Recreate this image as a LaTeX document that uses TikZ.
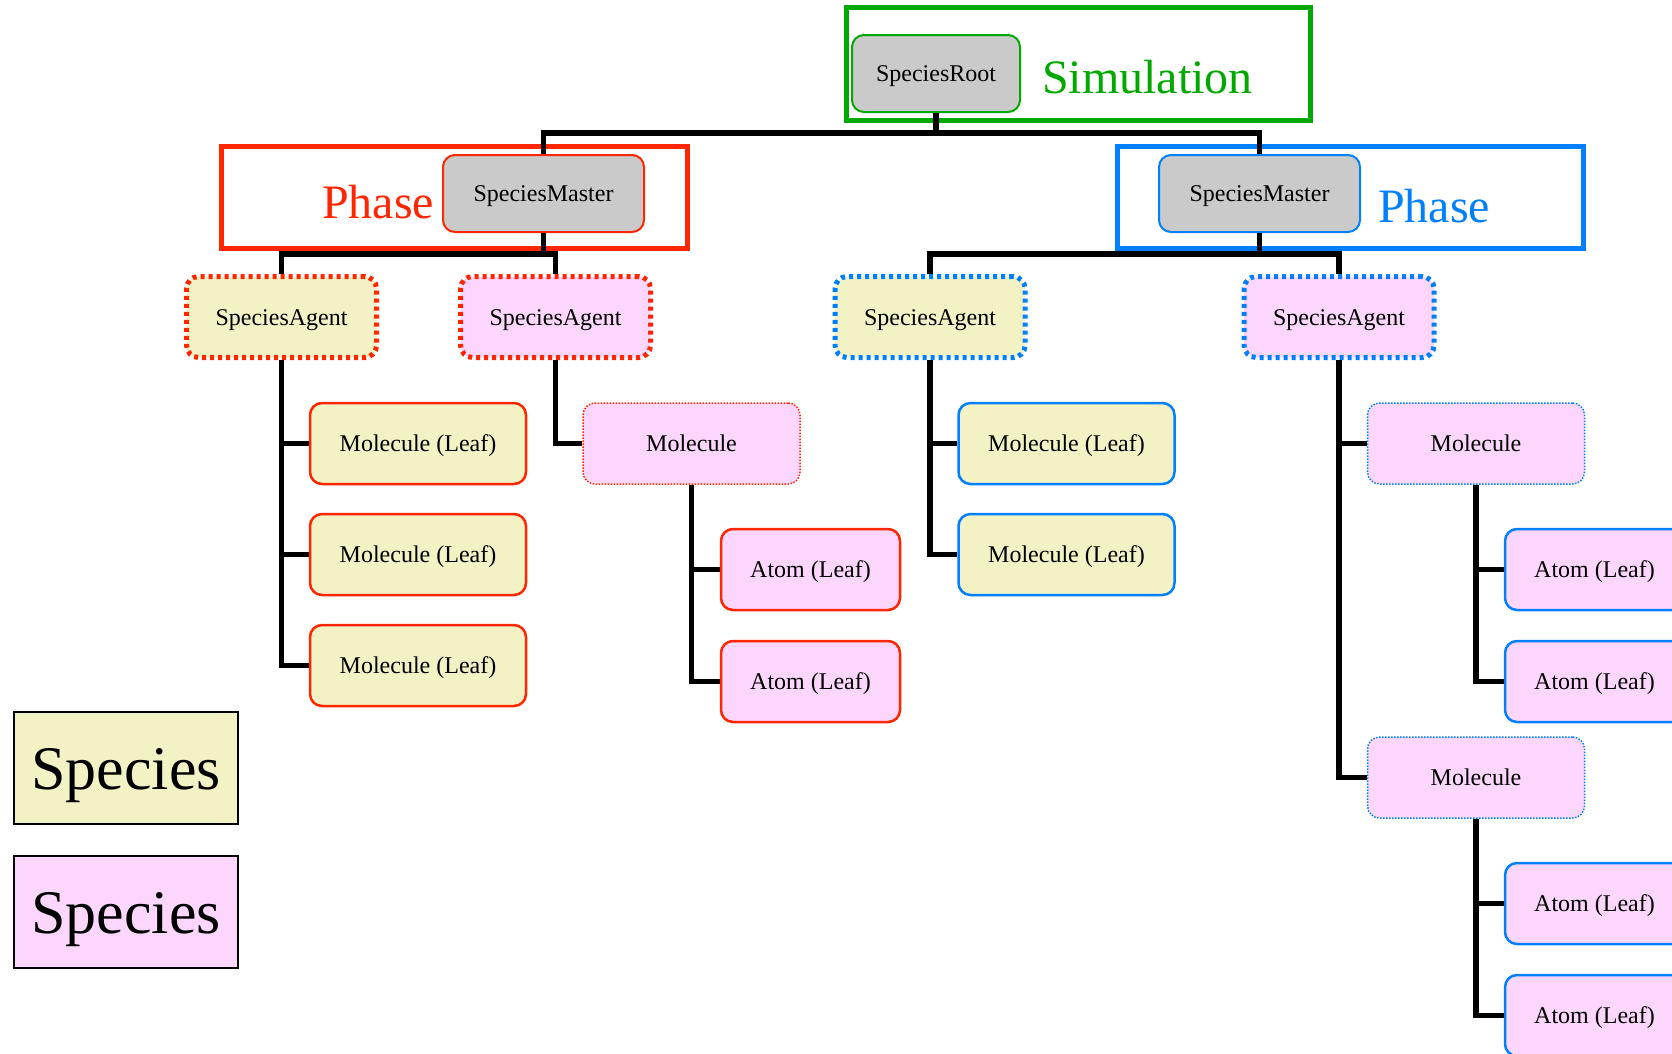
\documentclass[tikz,border=0pt]{standalone}
\usepackage{fontspec}
\setmainfont{Liberation Serif}
\definecolor{cred}{RGB}{255,38,0}
\definecolor{cblue}{RGB}{0,128,255}
\definecolor{cgreen}{RGB}{0,168,0}
\definecolor{cyel}{RGB}{243,242,196}
\definecolor{cpink}{RGB}{253,214,253}
\definecolor{cgray}{RGB}{202,202,202}
\tikzset{
  base/.style={rounded corners=12pt, inner sep=0pt, font=\fontsize{24}{28}\selectfont, text=black, text height=16.4pt, text depth=0pt},
  rootbox/.style={base, fill=cgray, draw=cgreen, line width=2pt, minimum width=168pt, minimum height=77pt},
  masterbox/.style={base, fill=cgray, line width=2pt, minimum width=201pt, minimum height=77pt},
  agentbox/.style={base, line width=5pt, dash pattern=on 4pt off 4pt, minimum width=190pt, minimum height=81pt},
  leafbox/.style={base, line width=2.5pt, minimum height=81pt},
  molbox/.style={base, fill=cpink, line width=1.5pt, dash pattern=on 1.5pt off 1.5pt, minimum width=217pt, minimum height=81pt},
  phasebox/.style={line width=5pt},
  conn/.style={line width=5.5pt, black, line join=miter},
  legend/.style={draw=black, line width=2pt, minimum width=224pt, minimum height=112pt, inner sep=0pt, text height=42pt, text depth=0pt, font=\fontsize{62}{70}\selectfont},
  bigtxt/.style={font=\fontsize{48}{56}\selectfont, inner sep=0pt, anchor=base west}
}
\begin{document}
\begin{tikzpicture}[x=1pt,y=-1pt]
\useasboundingbox (0,0) rectangle (1672,1053);
% group frames
\draw[phasebox, draw=cgreen] (846,7.5) rectangle (1310,120);
\draw[phasebox, draw=cred] (221.5,146) rectangle (687.5,248);
\draw[phasebox, draw=cblue] (1117,146) rectangle (1583,248);
\node[bigtxt, text=cgreen] (simtxt) at (1042,93) {Simulation};
\node[bigtxt, text=cred] (phaseL) at (322,218.5) {Phase};
\node[bigtxt, text=cblue] (phaseR) at (1378,222) {Phase};
% nodes
\node[rootbox] (root) at (936,73.5) {SpeciesRoot};
\node[masterbox, draw=cred] (mL) at (543.5,193.5) {SpeciesMaster};
\node[masterbox, draw=cblue] (mR) at (1259.5,193.5) {SpeciesMaster};
\node[agentbox, fill=cyel, draw=cred] (a1) at (281.5,317) {SpeciesAgent};
\node[agentbox, fill=cpink, draw=cred] (a2) at (555.5,317) {SpeciesAgent};
\node[agentbox, fill=cyel, draw=cblue] (a3) at (930,317) {SpeciesAgent};
\node[agentbox, fill=cpink, draw=cblue] (a4) at (1339,317) {SpeciesAgent};
\node[leafbox, fill=cyel, draw=cred, minimum width=216pt] (l1) at (418,443.5) {Molecule (Leaf)};
\node[leafbox, fill=cyel, draw=cred, minimum width=216pt] (l2) at (418,554.5) {Molecule (Leaf)};
\node[leafbox, fill=cyel, draw=cred, minimum width=216pt] (l3) at (418,665.5) {Molecule (Leaf)};
\node[molbox, draw=cred] (m1) at (691.5,443.5) {Molecule};
\node[leafbox, fill=cpink, draw=cred, minimum width=179pt] (t1) at (810.5,569.5) {Atom (Leaf)};
\node[leafbox, fill=cpink, draw=cred, minimum width=179pt] (t2) at (810.5,681.5) {Atom (Leaf)};
\node[leafbox, fill=cyel, draw=cblue, minimum width=216pt] (l4) at (1066.5,443.5) {Molecule (Leaf)};
\node[leafbox, fill=cyel, draw=cblue, minimum width=216pt] (l5) at (1066.5,554.5) {Molecule (Leaf)};
\node[molbox, draw=cblue] (m2) at (1476,443.5) {Molecule};
\node[molbox, draw=cblue] (m3) at (1476,777.5) {Molecule};
\node[leafbox, fill=cpink, draw=cblue, minimum width=179pt] (t3) at (1594.5,569.5) {Atom (Leaf)};
\node[leafbox, fill=cpink, draw=cblue, minimum width=179pt] (t4) at (1594.5,681.5) {Atom (Leaf)};
\node[leafbox, fill=cpink, draw=cblue, minimum width=179pt] (t5) at (1594.5,903.5) {Atom (Leaf)};
\node[leafbox, fill=cpink, draw=cblue, minimum width=179pt] (t6) at (1594.5,1015.5) {Atom (Leaf)};
% legend
\node[legend, fill=cyel] (legY) at (126,768) {Species};
\node[legend, fill=cpink] (legP) at (126,912) {Species};
% connectors
\coordinate (b1) at (0,133);
\coordinate (b2) at (0,254);
\draw[conn] (root.south) -- (root.south |- b1);
\draw[conn] (mL.north) -- (mL.north |- b1) -- (mR.north |- b1) -- (mR.north);
\draw[conn] (mL.south) -- (mL.south |- b2);
\draw[conn] (a1.north) -- (a1.north |- b2) -- (a2.north |- b2) -- (a2.north);
\draw[conn] (mR.south) -- (mR.south |- b2);
\draw[conn] (a3.north) -- (a3.north |- b2) -- (a4.north |- b2) -- (a4.north);
\draw[conn] (a1.south) |- (l1.west);
\draw[conn] (a1.south) |- (l2.west);
\draw[conn] (a1.south) |- (l3.west);
\draw[conn] (a2.south) |- (m1.west);
\draw[conn] (m1.south) |- (t1.west);
\draw[conn] (m1.south) |- (t2.west);
\draw[conn] (a3.south) |- (l4.west);
\draw[conn] (a3.south) |- (l5.west);
\draw[conn] (a4.south) |- (m2.west);
\draw[conn] (a4.south) |- (m3.west);
\draw[conn] (m2.south) |- (t3.west);
\draw[conn] (m2.south) |- (t4.west);
\draw[conn] (m3.south) |- (t5.west);
\draw[conn] (m3.south) |- (t6.west);
\end{tikzpicture}
\end{document}
